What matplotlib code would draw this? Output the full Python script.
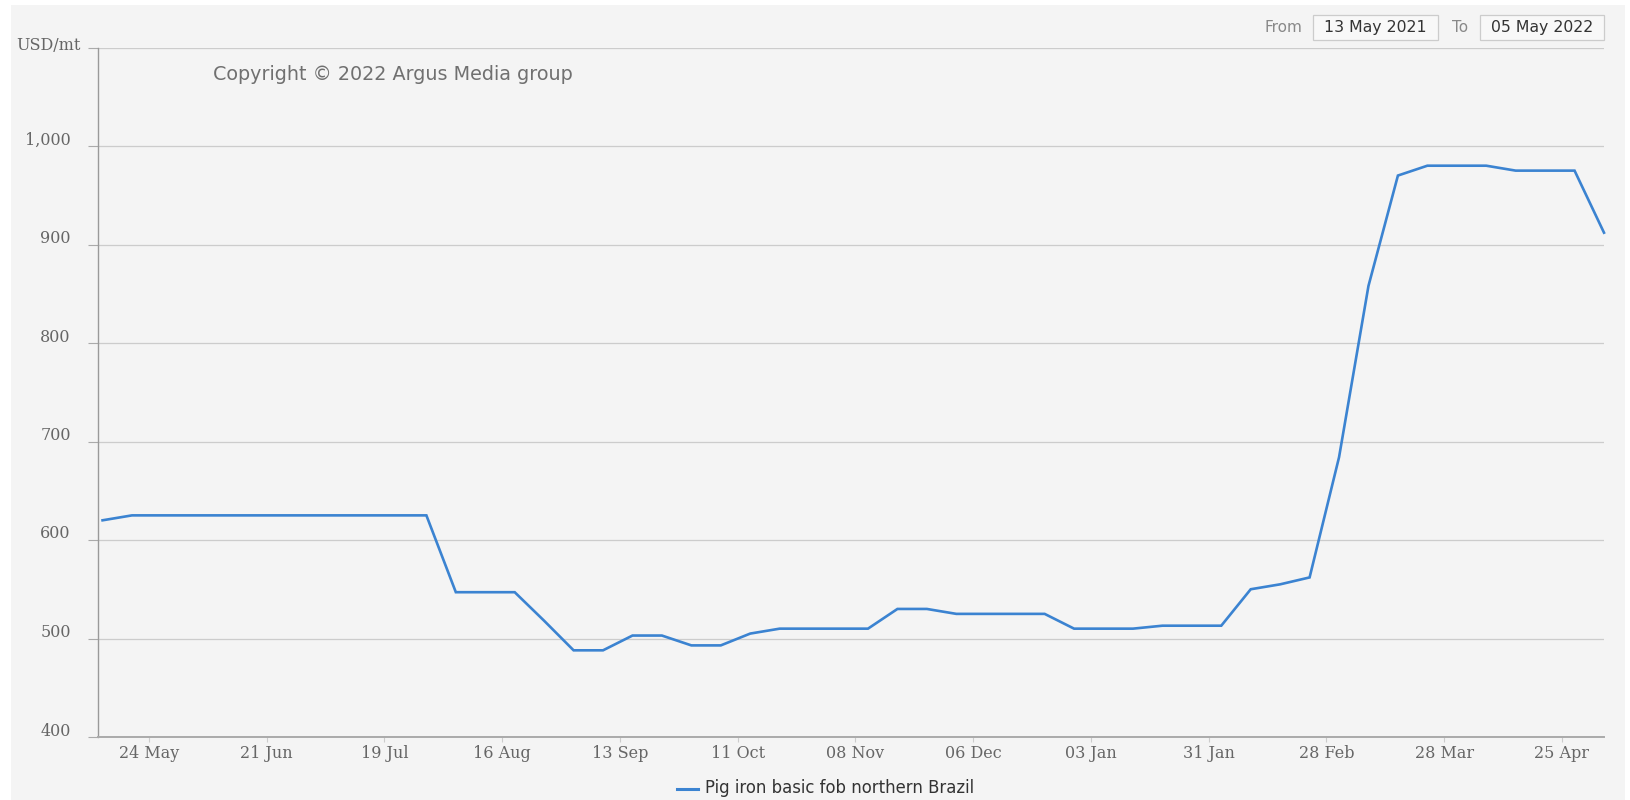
import matplotlib
matplotlib.use("Agg")
import matplotlib.pyplot as plt
from matplotlib.patches import Rectangle
from matplotlib.transforms import ScaledTranslation
import pandas as pd

# Weekly assessment: Pig iron basic fob northern Brazil, USD/mt
series_name = "Pig iron basic fob northern Brazil"
first_assessment = "2021-05-13"
weekly_prices = [
    620, 625, 625, 625, 625, 625, 625, 625, 625, 625, 625, 625,
    547, 547, 547, 518, 488, 488, 503, 503, 493, 493, 505,
    510, 510, 510, 510, 530, 530, 525, 525, 525, 525,
    510, 510, 510, 513, 513, 513, 550, 555, 562,
    684, 858, 970, 980, 980, 980, 975, 975, 975, 912,
]
dates = pd.date_range(first_assessment, periods=len(weekly_prices), freq="7D")

x_tick_dates = ["2021-05-24", "2021-06-21", "2021-07-19", "2021-08-16", "2021-09-13",
                "2021-10-11", "2021-11-08", "2021-12-06", "2022-01-03", "2022-01-31",
                "2022-02-28", "2022-03-28", "2022-04-25"]
x_tick_labels = ["24 May", "21 Jun", "19 Jul", "16 Aug", "13 Sep", "11 Oct", "08 Nov",
                 "06 Dec", "03 Jan", "31 Jan", "28 Feb", "28 Mar", "25 Apr"]
y_ticks = [400, 500, 600, 700, 800, 900, 1000, 1100]
y_tick_labels = ["400", "500", "600", "700", "800", "900", "1,000", ""]
unit_label = "USD/mt"
range_from = "13 May 2021"
range_to = "05 May 2022"
copyright_text = "Copyright \u00a9 2022 Argus Media group"

W, H, DPI = 1630, 800, 100
fig = plt.figure(figsize=(W / DPI, H / DPI), dpi=DPI, facecolor="white")

def px(x, y):
    """Convert pixel coordinates (from top-left) to figure fraction."""
    return x / W, 1 - y / H

# light grey panel behind the chart
x0, y0 = px(11, 800)
fig.patches.append(Rectangle((x0, y0), (1625 - 11) / W, (800 - 5) / H,
                             transform=fig.transFigure, facecolor="#f4f4f4",
                             edgecolor="none", zorder=-5))

left, top, right, bottom = 97.5, 47.5, 1604, 737
ax = fig.add_axes([left / W, 1 - bottom / H, (right - left) / W, (bottom - top) / H])
ax.set_facecolor("none")
ax.set_zorder(2)

line_color = "#3b83d1"
ax.plot(dates, weekly_prices, color=line_color, lw=1.9, zorder=3,
        solid_joinstyle="miter", clip_on=False)

ax.set_xlim(pd.Timestamp(first_assessment) - pd.Timedelta(days=1.2), dates[-1])
ax.set_ylim(400, 1100)

serif = "DejaVu Serif"
ax.set_yticks(y_ticks)
ax.set_yticklabels(y_tick_labels, fontfamily=serif, fontsize=11.5, color="#666666")
ax.set_xticks(pd.to_datetime(x_tick_dates))
ax.set_xticklabels(x_tick_labels, fontfamily=serif, fontsize=11.5, color="#666666")

ax.tick_params(axis="y", length=7.2, width=0.8, color="#aaaaaa", pad=12)
ax.tick_params(axis="x", length=3.6, width=0.8, color="#cccccc", pad=2.2)

# lift y labels a little above their grid lines
shift = ScaledTranslation(0, 8 / DPI, fig.dpi_scale_trans)
for lbl in ax.get_yticklabels():
    lbl.set_transform(lbl.get_transform() + shift)

ax.yaxis.grid(True, color="#cccccc", lw=0.9, zorder=1)
ax.xaxis.grid(False)
for side in ("top", "right"):
    ax.spines[side].set_visible(False)
ax.spines["left"].set_color("#999999")
ax.spines["left"].set_linewidth(1.0)
ax.spines["bottom"].set_color("#aaaaaa")
ax.spines["bottom"].set_linewidth(1.4)

# unit label at the top of the value axis
fig.text(*px(81, 45), unit_label, ha="right", va="center", fontfamily=serif,
         fontsize=11.5, color="#666666")

# copyright notice inside the plot
fig.text(*px(213, 75), copyright_text, ha="left", va="center",
         fontfamily="DejaVu Sans", fontsize=13.8, color="#707070")

# date range controls
fig.text(*px(1264, 27.5), "From", ha="left", va="center", fontfamily="DejaVu Sans",
         fontsize=11, color="#888888")
fig.text(*px(1452, 27.5), "To", ha="left", va="center", fontfamily="DejaVu Sans",
         fontsize=11, color="#888888")
for (bx0, bx1, label) in ((1313, 1438, range_from), (1480, 1604, range_to)):
    rx, ry = px(bx0, 39.5)
    fig.patches.append(Rectangle((rx, ry), (bx1 - bx0) / W, 25 / H,
                                 transform=fig.transFigure, facecolor="#f8f8f8",
                                 edgecolor="#cccccc", lw=0.9, zorder=1))
    fig.text(*px((bx0 + bx1) / 2, 27.5), label, ha="center", va="center",
             fontfamily="DejaVu Sans", fontsize=11.3, color="#333333", zorder=2)

# legend
lx0, ly = px(677, 789)
lx1, _ = px(698, 789)
fig.add_artist(plt.Line2D([lx0, lx1], [ly, ly], transform=fig.transFigure,
                          color=line_color, lw=2.2))
fig.text(*px(705, 788), series_name, ha="left", va="center",
         fontfamily="DejaVu Sans", fontsize=11.9, color="#333333")

fig.savefig("out.png", dpi=DPI, facecolor="white")
